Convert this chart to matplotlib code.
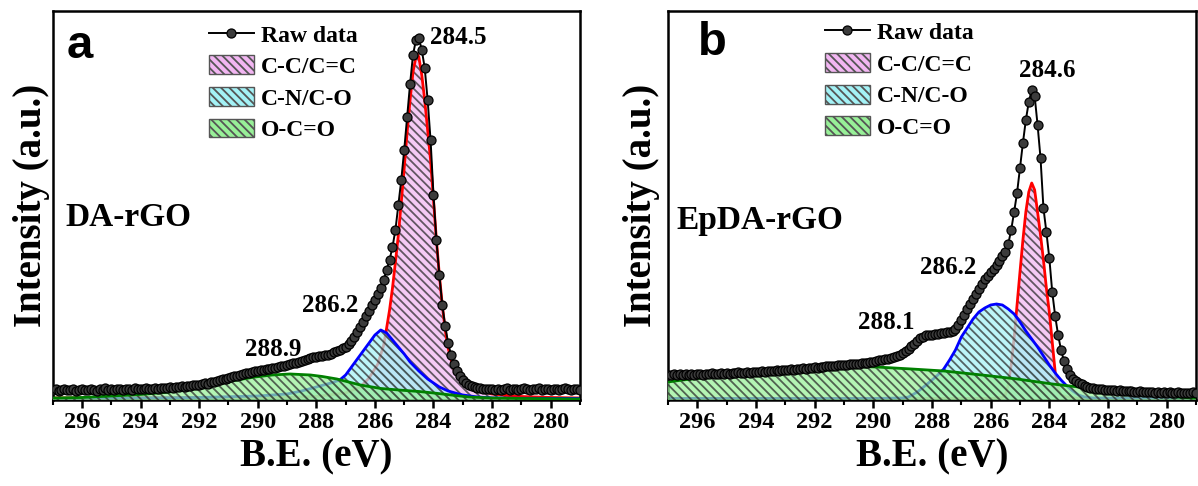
import numpy as np
import matplotlib
matplotlib.use("Agg")
import matplotlib.pyplot as plt
from matplotlib.patches import Patch
from matplotlib.lines import Line2D
from matplotlib.ticker import MultipleLocator

plt.rcParams['font.family'] = ['Liberation Serif', 'DejaVu Serif']
plt.rcParams['font.weight'] = 'bold'
plt.rcParams['hatch.linewidth'] = 1.3
plt.rcParams['hatch.color'] = '#2a2a2a'

# ---------------- data ----------------
# binding energy grid of raw data (eV), 297.0 -> 279.0 in 0.1 eV steps
raw_be = np.round(np.linspace(297.0, 279.0, 181), 1)

# panel a: DA-rGO raw intensity (a.u.)
raw_a = [
    9.5, 10.5, 9, 10, 11, 10, 9.5, 10.5, 9, 10,
    10.5, 9.5, 10, 11, 10, 9, 10.5, 10, 11.5, 10,
    10.5, 9.5, 10.5, 11, 10, 10.5, 11, 10, 11.5, 10.5,
    11, 10.5, 11.5, 11, 10.5, 11.5, 11, 12, 11.5, 12,
    12.5, 12, 13, 12.5, 13.5, 13, 14, 13.5, 14.5, 15,
    14.5, 16, 16.5, 16, 17.5, 18, 19, 19.5, 20.5, 21,
    22, 22.5, 23.5, 24, 25, 26, 26.5, 27, 28, 28.5,
    29, 29.5, 30, 30.5, 31, 31.5, 32, 32.5, 33.5, 34,
    35, 35.5, 36.5, 37, 38, 39, 40, 41, 42, 42.5,
    43, 43.5, 44, 44.5, 45, 46, 48, 49, 50, 51.5,
    53, 56, 59, 63, 68, 73, 78, 84, 89, 95,
    100, 106, 112, 120, 130, 140, 153, 170, 195, 220,
    250, 283, 316, 345, 360, 362, 350, 332, 300, 260,
    205, 160, 125, 95, 74, 57, 45, 36, 29, 24,
    20, 17, 15, 13.5, 12.5, 12, 11.5, 11, 10.5, 11,
    10.5, 10, 11, 10, 10.5, 11.5, 10, 10.5, 11, 10,
    10.5, 11.5, 10.5, 10, 11, 10.5, 11.5, 10, 10.5, 11,
    10, 10.5, 11, 10, 10.5, 11.5, 10.5, 10, 11, 10.5,
    10,
]

# panel b: EpDA-rGO raw intensity (a.u.)
raw_b = [
    25, 24.5, 25.5, 25, 26, 25, 25.5, 24.5, 25.5, 25,
    25.5, 26, 25, 26, 25.5, 26.5, 25.5, 26, 26.5, 26,
    26.5, 26, 27, 26.5, 27.5, 26.5, 27, 27.5, 27, 28,
    27.5, 28, 28.5, 28, 28.5, 29, 28.5, 29.5, 29, 30,
    30, 29.5, 30.5, 30, 31, 31, 31.5, 31, 32, 32,
    32.5, 32, 33, 32.5, 33.5, 33.5, 34, 33.5, 34.5, 34.5,
    35, 35, 35.5, 35.5, 36, 36, 36.5, 37, 37, 37.5,
    38, 39, 39.5, 40, 40.5, 41, 42, 42.5, 43.5, 45,
    47, 48.5, 51, 53.5, 56, 59, 61.5, 63, 64.5, 65,
    65, 65.5, 66, 66.5, 67, 67.5, 68, 69, 71, 75,
    80, 85, 91, 96, 101, 106, 111, 116, 121, 124,
    128, 131, 135, 139, 144, 148, 156, 170, 188, 207,
    232, 257, 280, 298, 310, 304, 275, 242, 192, 168,
    142, 108, 84, 65, 50, 39, 31, 25, 21, 19,
    17, 15.5, 14, 13, 12, 11.5, 11, 10.5, 10.5, 10,
    10, 9.5, 10, 9, 9.5, 9, 8.5, 9, 8.5, 8,
    8, 8.5, 7.5, 8, 7.5, 8, 7, 7.5, 7, 7.5,
    7, 7.5, 6.5, 7, 7.5, 6.5, 7, 6.5, 7, 7.5,
    7,
]

# fitted components, panel a
cc_a_be = [297.0, 289.0, 288.0, 287.0, 286.5, 286.2, 285.9, 285.7, 285.6, 285.5, 285.4,
           285.3, 285.2, 285.1, 285.0, 284.9, 284.8, 284.7, 284.6, 284.55, 284.5, 284.4,
           284.3, 284.2, 284.1, 284.0, 283.9, 283.8, 283.7, 283.6, 283.5, 283.4, 283.3,
           283.2, 283.0, 282.8, 282.5, 282.0, 281.5, 281.0, 280.0, 279.0]
cc_a = [2, 2.5, 3.5, 7, 13, 22, 36, 55, 72, 90, 112,
        138, 165, 198, 232, 268, 300, 328, 343, 346, 343, 325,
        300, 270, 240, 200, 160, 125, 95, 70, 52, 40, 31,
        25, 18, 14, 10, 6, 4.5, 3.5, 2.5, 2]

cn_a_be = [297.0, 294.0, 292.0, 290.0, 289.0, 288.5, 288.0, 287.5, 287.2, 287.0, 286.7,
           286.5, 286.2, 286.0, 285.8, 285.6, 285.4, 285.2, 285.0, 284.8, 284.5, 284.2,
           284.0, 283.8, 283.5, 283.2, 283.0, 282.5, 282.0, 281.0, 279.0]
cn_a = [1.5, 2, 2.5, 4, 6, 9, 13, 17, 20, 25, 37,
        45, 57, 65, 70, 67, 60, 53, 46, 38, 29, 21,
        17, 13, 9, 6.5, 5, 3, 2, 1.7, 1.5]

oco_a_be = [297.0, 296.0, 295.0, 294.0, 293.0, 292.3, 291.5, 291.1, 290.5, 290.1, 289.5,
            288.9, 288.2, 287.8, 287.3, 286.5, 285.8, 285.2, 284.5, 284.0, 283.4, 282.8,
            282.0, 281.0, 279.0]
oco_a = [2, 2.5, 4, 5.5, 8, 12, 16, 18, 21, 23, 25,
         26, 25, 23.5, 21, 15, 11.5, 10, 8.5, 7, 5, 3,
         2, 1.5, 1]

# fitted components, panel b
cc_b_be = [297.0, 286.0, 285.6, 285.5, 285.4, 285.3, 285.2, 285.1, 285.0, 284.9, 284.8,
           284.7, 284.6, 284.5, 284.4, 284.3, 284.2, 284.1, 284.0, 283.9, 283.8, 283.7,
           283.6, 283.4, 283.0, 279.0]
cc_b = [1.5, 1.5, 2.5, 5, 15, 35, 62, 95, 128, 160, 188,
        208, 217, 210, 188, 165, 140, 112, 88, 58, 28, 12,
        5, 3, 1.5, 1.5]

cn_b_be = [297.0, 290.0, 289.0, 288.8, 288.5, 288.2, 288.0, 287.8, 287.6, 287.4, 287.2,
           287.0, 286.8, 286.6, 286.4, 286.2, 286.0, 285.8, 285.6, 285.4, 285.2, 285.0,
           284.8, 284.6, 284.4, 284.2, 284.0, 283.8, 283.6, 283.4, 283.2, 283.0, 282.8,
           282.5, 279.0]
cn_b = [1.5, 1.5, 2, 3, 8, 15, 20, 25, 31, 40, 50,
        63, 72, 81, 88, 92, 95, 96, 95, 91, 86, 78,
        69, 61, 53, 44, 35, 27, 20, 14, 9, 5, 3,
        2, 1.5]

oco_b_be = [297.0, 296.5, 296.0, 295.25, 294.5, 293.5, 292.3, 291.1, 289.9, 288.7, 287.6,
            286.3, 285.1, 283.9, 282.7, 281.5, 280.3, 279.1, 279.0]
oco_b = [18, 20, 21.5, 25, 28, 31, 33, 34, 33, 31, 29,
         25, 21, 16, 12, 7, 4, 2, 2]

legend_labels = ['Raw data', 'C-C/C=C', 'C-N/C-O', 'O-C=O']
xticks_major = [296, 294, 292, 290, 288, 286, 284, 282, 280]

# ---------------- style ----------------
HATCH = '\\\\\\\\'
fill_cols = ['#f2b6f2', '#a4f2f6', '#98f098']
line_cols = ['#ff0000', '#0000ff', '#008000']
hatch_col = '#2a2a2a'

fig = plt.figure(figsize=(11.98, 4.86), dpi=100)
ax_a = fig.add_axes([0.0440, 0.1770, 0.4401, 0.8010])
ax_b = fig.add_axes([0.5576, 0.1770, 0.4407, 0.8010])


def draw_panel(ax, raw, comps, notes, letter, letter_pos, sample, sample_pos,
               leg_anchor, ylab_x):
    z = 1
    for (be, val), fc, lc in zip(comps, fill_cols, line_cols):
        ax.fill_between(be, 0, val, facecolor=fc, edgecolor=hatch_col, hatch=HATCH,
                        linewidth=0, alpha=0.72, zorder=z)
        ax.plot(be, val, color=lc, lw=2.0, zorder=z + 0.5, solid_capstyle='butt')
        z += 1
    ax.plot(raw_be, raw, '-o', color='k', lw=1.4, ms=6.5, mfc='#3c3c3c', mec='k',
            mew=0.9, zorder=10)

    ax.set_xlim(297, 279)
    ax.set_ylim(0, 389.3)
    ax.set_yticks([])
    ax.set_xticks(xticks_major)
    ax.xaxis.set_minor_locator(MultipleLocator(1))
    ax.tick_params(axis='x', which='major', direction='out', length=6, width=1.8,
                   labelsize=17.5, pad=3)
    ax.tick_params(axis='x', which='minor', direction='out', length=3.5, width=1.5)
    for lab in ax.get_xticklabels():
        lab.set_fontweight('bold')
    for sp in ax.spines.values():
        sp.set_linewidth(1.8)

    ax.set_xlabel('B.E. (eV)', fontsize=28, fontweight='bold')
    ax.xaxis.set_label_coords(0.5, -0.145)
    ax.xaxis.label.set_va('center')
    ax.set_ylabel('Intensity (a.u.)', fontsize=28, fontweight='bold')
    ax.yaxis.set_label_coords(ylab_x, 0.5)
    ax.yaxis.label.set_va('center')

    for (xe, yv, s) in notes:
        ax.text(xe, yv, s, fontsize=18, fontweight='bold', ha='center', va='center',
                zorder=12)

    ax.text(letter_pos[0], letter_pos[1], letter, transform=ax.transAxes,
            fontsize=34, fontweight='bold', family=['Liberation Sans', 'DejaVu Sans'],
            ha='left', va='center')
    ax.text(sample_pos[0], sample_pos[1], sample, transform=ax.transAxes,
            fontsize=24, fontweight='bold', ha='left', va='center')

    handles = [Line2D([], [], color='k', lw=1.4, marker='o', ms=6.5, mfc='#3c3c3c',
                      mec='k', mew=0.9)]
    for fc in fill_cols:
        handles.append(Patch(facecolor=fc, edgecolor='#555555', hatch=HATCH, lw=1.0))
    leg = ax.legend(handles, legend_labels, loc='upper left', bbox_to_anchor=leg_anchor,
                    frameon=False, fontsize=17, handlelength=1.9, handleheight=0.85,
                    handletextpad=0.3, labelspacing=0.38, borderpad=0,
                    borderaxespad=0, numpoints=1)
    for t in leg.get_texts():
        t.set_fontweight('bold')


draw_panel(ax_a, raw_a,
           [(cc_a_be, cc_a), (cn_a_be, cn_a), (oco_a_be, oco_a)],
           [(283.16, 362, '284.5'), (287.52, 94, '286.2'), (289.47, 50, '288.9')],
           'a', (0.027, 0.909), 'DA-rGO', (0.024, 0.4675), (0.2964, 0.966), -0.040)

draw_panel(ax_b, raw_b,
           [(cc_b_be, cc_b), (cn_b_be, cn_b), (oco_b_be, oco_b)],
           [(284.07, 329, '284.6'), (287.44, 132, '286.2'), (289.55, 77, '288.1')],
           'b', (0.057, 0.917), 'EpDA-rGO', (0.0157, 0.462), (0.297, 0.972), -0.051)

fig.savefig('out.png', dpi=100)
